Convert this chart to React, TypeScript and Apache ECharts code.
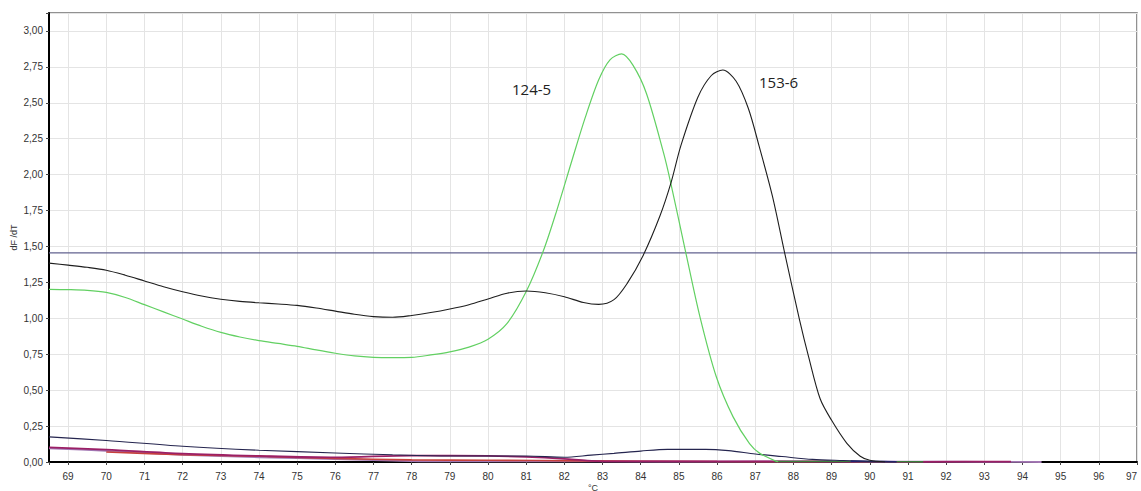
import React, { useEffect, useRef } from "react";
import * as echarts from "echarts";

// 153-6 (black)
const blackT = [68.5, 69.0, 69.5, 70.0, 70.5, 71.0, 71.5, 72.0, 72.5, 73.0, 73.5, 74.0, 74.5, 75.0, 75.5, 76.0, 76.5, 77.0, 77.5, 78.0, 78.5, 79.0, 79.5, 80.0, 80.5, 81.0, 81.5, 82.0, 82.5, 82.9, 83.3, 83.65, 84.05, 84.5, 84.8, 85.05, 85.5, 85.85, 86.15, 86.5, 86.82, 87.1, 87.45, 87.77, 88.16, 88.4, 88.7, 89.0, 89.4, 89.75, 90.0, 90.4];
const blackV = [1.384, 1.37, 1.355, 1.335, 1.3, 1.26, 1.22, 1.185, 1.155, 1.133, 1.118, 1.108, 1.1, 1.09, 1.072, 1.05, 1.028, 1.012, 1.007, 1.02, 1.04, 1.065, 1.095, 1.135, 1.175, 1.19, 1.178, 1.15, 1.11, 1.097, 1.13, 1.245, 1.43, 1.71, 1.95, 2.2, 2.54, 2.69, 2.728, 2.65, 2.46, 2.2, 1.85, 1.456, 0.99, 0.73, 0.44, 0.29, 0.13, 0.04, 0.012, 0.0];

// 124-5 (green)
const greenT = [68.5, 69.0, 69.5, 70.0, 70.5, 71.0, 71.5, 72.0, 72.5, 73.0, 73.5, 74.0, 74.5, 75.0, 75.5, 76.0, 76.5, 77.0, 77.5, 78.0, 78.5, 79.0, 79.5, 80.0, 80.5, 81.0, 81.45, 81.8, 82.2, 82.55, 82.9, 83.2, 83.5, 83.8, 84.15, 84.6, 84.78, 85.18, 85.55, 85.98, 86.42, 86.85, 87.12, 87.6];
const greenV = [1.202, 1.2, 1.195, 1.18, 1.145, 1.095, 1.045, 0.995, 0.945, 0.902, 0.87, 0.845, 0.825, 0.805, 0.78, 0.757, 0.738, 0.728, 0.726, 0.728, 0.745, 0.767, 0.8, 0.855, 0.965, 1.186, 1.47, 1.75, 2.1, 2.4, 2.66, 2.8, 2.84, 2.76, 2.565, 2.15, 1.95, 1.458, 1.012, 0.593, 0.314, 0.128, 0.06, 0.0];

// low curves near the baseline
const navyT = [68.5, 70, 72, 74, 76, 77.5, 79, 81, 82, 82.7, 83.3, 84, 84.7, 85.7, 86.3, 87, 87.7, 88.5, 89.3, 90, 90.7];
const navyV = [0.175, 0.15, 0.11, 0.082, 0.063, 0.05, 0.042, 0.042, 0.033, 0.048, 0.06, 0.076, 0.088, 0.088, 0.079, 0.056, 0.038, 0.018, 0.01, 0.004, 0.0];

const magentaT = [68.5, 70, 72, 74, 76, 78, 80, 81, 82, 82.6, 83.5, 86, 88.5, 90, 92.5, 93.7];
const magentaV = [0.102, 0.086, 0.058, 0.042, 0.032, 0.045, 0.042, 0.035, 0.022, 0.01, 0.004, 0.004, 0.003, 0.0, 0.002, 0.002];

const purpleT = [68.5, 70, 72, 74, 76, 77.5, 78.5, 83, 86, 89, 92, 94.5];
const purpleV = [0.095, 0.078, 0.05, 0.033, 0.02, 0.01, 0.005, 0.004, 0.003, 0.004, 0.002, 0.0];

const redT = [70, 72, 74, 76, 78, 80, 82.5, 86, 88, 89];
const redV = [0.07, 0.05, 0.04, 0.025, 0.015, 0.012, 0.008, 0.003, 0.002, 0.003];

const greenDarkT = [87.5, 88.5, 89.5, 90.5, 91.4];
const greenDarkV = [0.004, 0.004, 0.003, 0.002, 0.001];

const blueT = [89.5, 90.0, 90.7];
const blueV = [0.006, 0.004, 0.002];

const thresholdT = [68.5, 97];
const thresholdV = [1.455, 1.455];

const xMin = 68.5;
const xMax = 97;
const yMax = 3.125;

const zip = (t: number[], v: number[]) => t.map((x, i) => [x, v[i]]);

export default function App() {
  const ref = useRef<HTMLDivElement>(null);
  useEffect(() => {
    if (!ref.current) return;
    const chart = echarts.init(ref.current, undefined, { renderer: "svg" });
    const line = (name: string, t: number[], v: number[], color: string, width: number, z = 2) => ({
      name,
      type: "line",
      data: zip(t, v),
      showSymbol: false,
      symbol: "none",
      smooth: 0.3,
      z,
      lineStyle: { color, width },
    });
    chart.setOption({
      animation: false,
      backgroundColor: "#ffffff",
      textStyle: { fontFamily: "Liberation Sans, Arial, sans-serif" },
      grid: {
        left: 49,
        right: 4,
        top: 13,
        bottom: 29,
        outerBoundsMode: "none",
        containLabel: false,
        show: true,
        borderColor: "#6e6e6e",
        borderWidth: 1.5,
        backgroundColor: "transparent",
      },
      xAxis: {
        type: "value",
        min: xMin,
        max: xMax,
        splitNumber: 28,
        minInterval: 1,
        maxInterval: 1,
        name: "°C",
        nameLocation: "middle",
        nameGap: 21,
        nameMoveOverlap: false,
        nameTextStyle: { fontSize: 9, color: "#333" },
        axisLine: { show: true, onZero: false, lineStyle: { color: "#000", width: 2 } },
        axisTick: { show: true, length: 3, lineStyle: { color: "#444" } },
        axisLabel: {
          fontSize: 10,
          color: "#333",
          margin: 9,
          alignMaxLabel: "right",
          formatter: (val: number) => (Math.abs(val - Math.round(val)) < 1e-6 ? String(Math.round(val)) : ""),
        },
        splitLine: { show: true, lineStyle: { color: "#e4e4e4", width: 1 } },
      },
      yAxis: {
        type: "value",
        min: 0,
        max: yMax,
        interval: 0.25,
        name: "dF /dT",
        nameLocation: "middle",
        nameGap: 31,
        nameMoveOverlap: false,
        nameRotate: 90,
        nameTextStyle: { fontSize: 9, color: "#333" },
        axisLine: { show: true, onZero: false, lineStyle: { color: "#000", width: 2 } },
        axisTick: { show: true, length: 3, lineStyle: { color: "#444" } },
        axisLabel: {
          fontSize: 10,
          color: "#333",
          margin: 6,
          formatter: (val: number) => (val > 3.01 ? "" : val.toFixed(2).replace(".", ",")),
        },
        splitLine: { show: true, lineStyle: { color: "#e4e4e4", width: 1 } },
      },
      series: [
        { ...line("threshold", thresholdT, thresholdV, "#62628f", 1.3), smooth: false },
        line("purple", purpleT, purpleV, "#a277b3", 1.8, 3),
        line("red", redT, redV, "#c8403c", 1.6, 3),
        line("magenta", magentaT, magentaV, "#9b1f66", 1.8, 3),
        line("greenDark", greenDarkT, greenDarkV, "#3b7d3b", 1.6, 3),
        line("blue", blueT, blueV, "#22228a", 1.6, 3),
        line("navy", navyT, navyV, "#25254f", 1.1, 4),
        line("124-5", greenT, greenV, "#62d062", 1.2, 5),
        line("153-6", blackT, blackV, "#1e1e1e", 1.1, 5),
      ],
      graphic: [
        {
          type: "text",
          left: 512,
          top: 81,
          z: 10,
          style: { text: "124-5", fontSize: 15, fill: "#222", fontFamily: "Open Sans, sans-serif" },
        },
        {
          type: "text",
          left: 759,
          top: 74,
          z: 10,
          style: { text: "153-6", fontSize: 15, fill: "#222", fontFamily: "Open Sans, sans-serif" },
        },
      ],
    });
    return () => chart.dispose();
  }, []);
  return <div ref={ref} style={{ position: "fixed", left: 0, top: 0, width: 1141, height: 491 }} />;
}
